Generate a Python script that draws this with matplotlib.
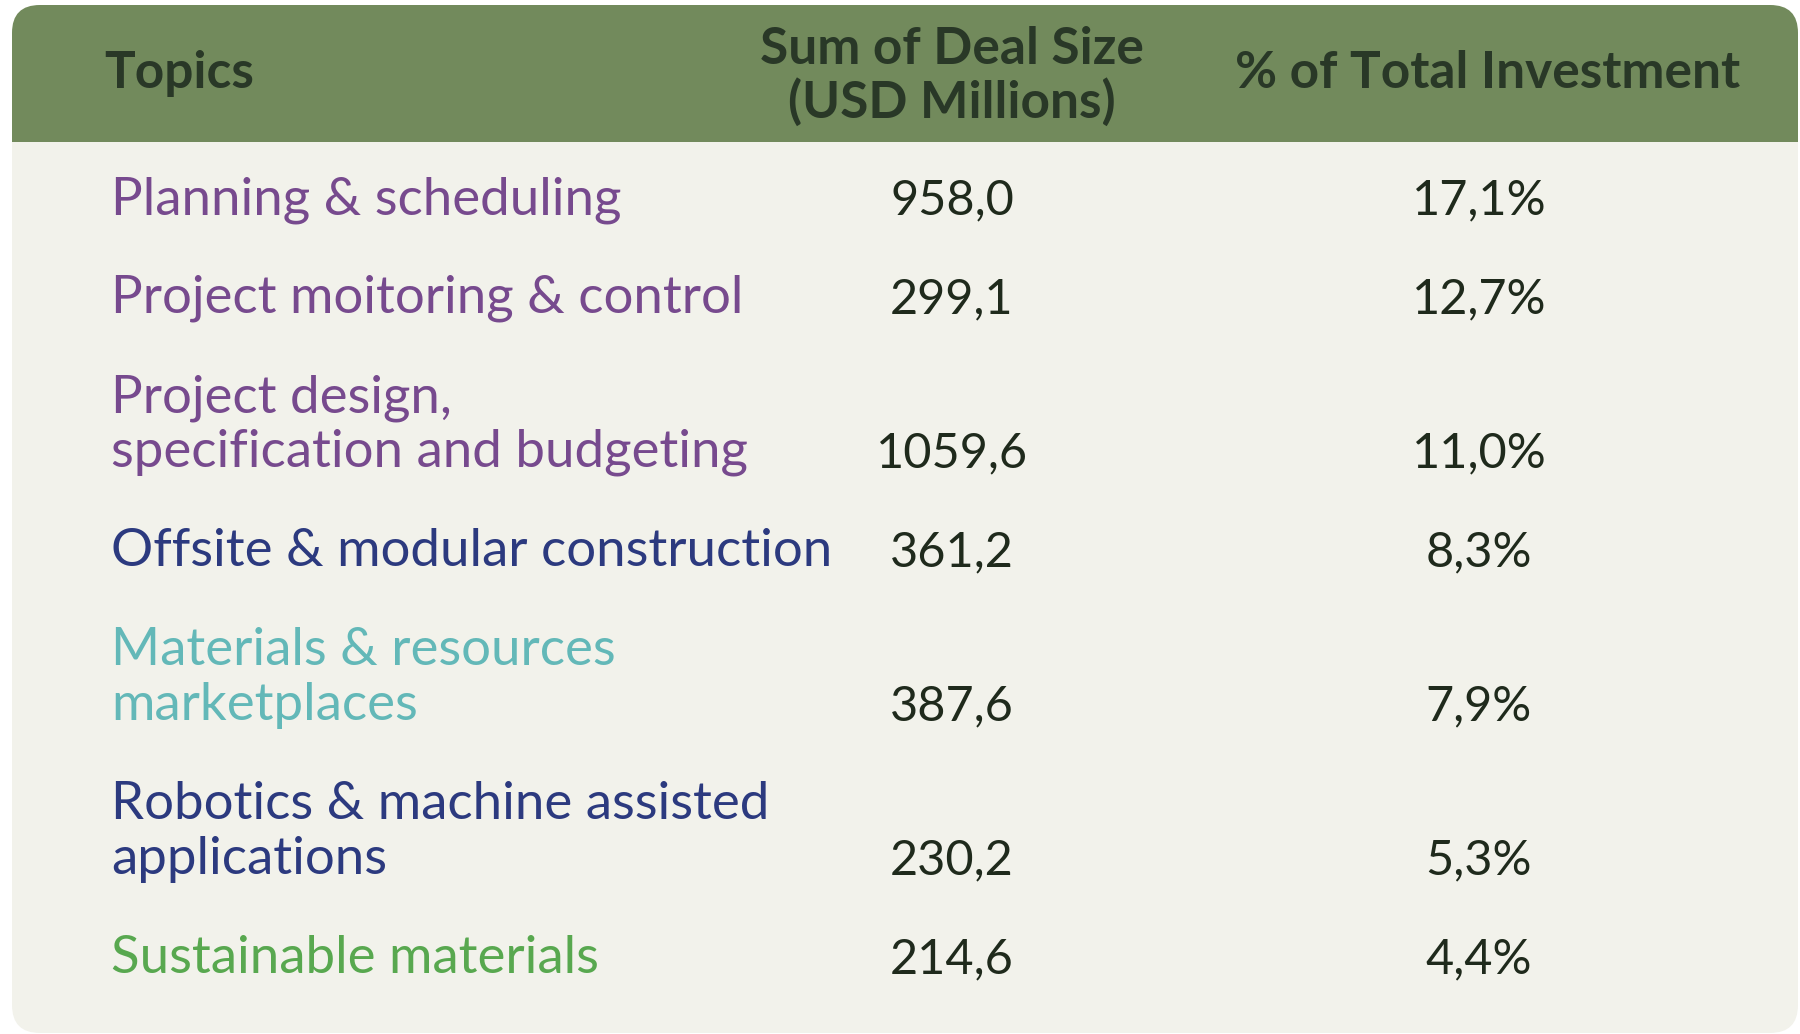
import matplotlib.pyplot as plt
from matplotlib.patches import FancyBboxPatch, Rectangle

topics = [
    ["Planning & scheduling"],
    ["Project moitoring & control"],
    ["Project design,", "specification and budgeting"],
    ["Offsite & modular construction"],
    ["Materials & resources", "marketplaces"],
    ["Robotics & machine assisted", "applications"],
    ["Sustainable materials"],
]
deal_size = [958.0, 299.1, 1059.6, 361.2, 387.6, 230.2, 214.6]
pct_total = [17.1, 12.7, 11.0, 8.3, 7.9, 5.3, 4.4]
headers = ["Topics", "Sum of Deal Size\n(USD Millions)", "% of Total Investment"]

topic_colors = ["#774a8e", "#774a8e", "#774a8e", "#2c3a7f", "#63b8b8", "#2c3a7f", "#58a84f"]
HEADER_BG = "#728a5c"
BODY_BG = "#f2f2eb"
HEADER_TXT = "#293827"
NUM_TXT = "#1f2a1c"

W, H = 1800, 1034
fig = plt.figure(figsize=(18, 10.34), dpi=100)
ax = fig.add_axes([0, 0, 1, 1])
ax.set_xlim(0, W)
ax.set_ylim(H, 0)
ax.set_axis_off()

x0, y0, x1, y1 = 12, 5, 1798, 1033
head_bottom = 142
r = 28

body = FancyBboxPatch((x0 + r, y0 + r), x1 - x0 - 2 * r, y1 - y0 - 2 * r,
                      boxstyle="round,pad=%d" % r, fc=BODY_BG, ec="none")
ax.add_patch(body)
head = FancyBboxPatch((x0 + r, y0 + r), x1 - x0 - 2 * r, head_bottom - y0 - 2 * r,
                      boxstyle="round,pad=%d" % r, fc=HEADER_BG, ec="none")
ax.add_patch(head)
ax.add_patch(Rectangle((x0, head_bottom - r), x1 - x0, r, fc=HEADER_BG, ec="none"))

font = "Lato"
fs = 38
fs_head = 37
fs_num = 35
label_x = 111
num_x = 952
pct_x = 1479

# header
ax.text(104, 88, headers[0], fontsize=fs_head, fontweight="bold", color=HEADER_TXT,
        family=font, ha="left", va="baseline")
l1, l2 = headers[1].split("\n")
ax.text(num_x, 64, l1, fontsize=fs_head, fontweight="bold", color=HEADER_TXT,
        family=font, ha="center", va="baseline")
ax.text(num_x, 118, l2, fontsize=fs_head, fontweight="bold", color=HEADER_TXT,
        family=font, ha="center", va="baseline")
ax.text(1488, 88, headers[2], fontsize=fs_head, fontweight="bold", color=HEADER_TXT,
        family=font, ha="center", va="baseline")

# rows
line_gap = 55
row_step = 99
base = 214
for i, lines in enumerate(topics):
    if i > 0:
        base += row_step + line_gap * (len(lines) - 1)
    for j, line in enumerate(lines):
        yy = base - line_gap * (len(lines) - 1 - j)
        ax.text(label_x, yy, line, fontsize=fs, color=topic_colors[i],
                family=font, ha="left", va="baseline")
    ax.text(num_x, base, f"{deal_size[i]:.1f}".replace(".", ","), fontsize=fs_num,
            color=NUM_TXT, family=font, ha="center", va="baseline")
    ax.text(pct_x, base, f"{pct_total[i]:.1f}%".replace(".", ","), fontsize=fs_num,
            color=NUM_TXT, family=font, ha="center", va="baseline")

fig.savefig("out.png", dpi=100, facecolor="white")
